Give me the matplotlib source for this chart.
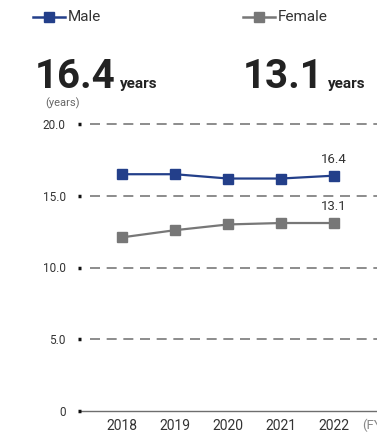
import matplotlib
matplotlib.use("Agg")
import matplotlib.pyplot as plt

plt.rcParams["font.family"] = ["Roboto", "DejaVu Sans"]
plt.rcParams["lines.scale_dashes"] = False

years = [2018, 2019, 2020, 2021, 2022]
male = [16.5, 16.5, 16.2, 16.2, 16.4]
female = [12.1, 12.6, 13.0, 13.1, 13.1]
y_ticks = [0, 5, 10, 15, 20]
y_tick_labels = ["0", "5.0", "10.0", "15.0", "20.0"]
headline = {"Male": "16.4", "Female": "13.1"}

MALE_C = "#233f8a"
FEMALE_C = "#777777"
TEXT_C = "#333333"
GRID_C = "#6e6e6e"

W, H = 377, 432
fig = plt.figure(figsize=(W / 100, H / 100), dpi=100)


def fx(px):
    return px / W


def fy(py):
    return 1 - py / H


# plot area: left edge at 78 px, runs past the right border
left, right, top, bottom = 78, 400, 124, 411
ax = fig.add_axes([fx(left), fy(bottom), fx(right - left), fy(top) - fy(bottom)])
x_per_px = 53.0
ax.set_xlim(2018 - (122 - left) / x_per_px, 2018 + (right - 122) / x_per_px)
ax.set_ylim(0, 20)
for s in ax.spines.values():
    s.set_visible(False)

# dashed gridlines
x0 = (90 - left) / (right - left)
for v in y_ticks[1:]:
    ax.axhline(v, xmin=x0, xmax=1, color=GRID_C, lw=1.1,
               dashes=(7.2, 4.8), clip_on=False, zorder=1)
ax.axhline(0, xmin=(80 - left) / (right - left), xmax=1, color=GRID_C,
           lw=1.0, clip_on=False, zorder=1)

ax.set_yticks(y_ticks)
ax.set_yticklabels(y_tick_labels)
ax.tick_params(axis="y", direction="in", length=2.5, width=2.5, color="#111111",
               pad=9, labelsize=8.5, labelcolor=TEXT_C)
ax.set_xticks(years)
ax.set_xticklabels([str(y) for y in years])
ax.tick_params(axis="x", length=0, pad=6, labelsize=10, labelcolor=TEXT_C)
for t in ax.get_yticklabels():
    t.set_clip_on(False)

ax.plot(years, male, color=MALE_C, lw=1.6, marker="s", ms=7.5,
        clip_on=False, zorder=3)
ax.plot(years, female, color=FEMALE_C, lw=1.6, marker="s", ms=7.5,
        clip_on=False, zorder=3)

ax.annotate(f"{male[-1]:.1f}", (years[-1], male[-1]), xytext=(0, 7),
            textcoords="offset points", ha="center", va="bottom",
            fontsize=9.5, color=TEXT_C)
ax.annotate(f"{female[-1]:.1f}", (years[-1], female[-1]), xytext=(0, 7),
            textcoords="offset points", ha="center", va="bottom",
            fontsize=9.5, color=TEXT_C)

ax.annotate("(FY)", (years[-1], 0), xytext=(28, -14.5),
            textcoords="offset pixels", ha="left", va="center",
            fontsize=9.5, color="#888888", annotation_clip=False)

# legend glyphs and headline figures
def legend_item(x, color, label):
    fig.add_artist(plt.Line2D([fx(x), fx(x + 32)], [fy(17), fy(17)],
                              color=color, lw=1.8, transform=fig.transFigure))
    fig.add_artist(plt.Line2D([fx(x + 16)], [fy(17)], color=color, marker="s",
                              ms=7.5, transform=fig.transFigure))
    fig.text(fx(x + 35), fy(17), label, ha="left", va="center",
             fontsize=11, color=TEXT_C)

legend_item(33, MALE_C, "Male")
legend_item(243, FEMALE_C, "Female")

def headline_item(x, value):
    t = fig.text(fx(x), fy(88), value, ha="left", va="baseline",
                 fontsize=29, fontweight="bold", color="#222222")
    fig.canvas.draw()
    bb = t.get_window_extent()
    fig.text(bb.x1 / W + fx(4), fy(88), "years", ha="left", va="baseline",
             fontsize=11, fontweight="bold", color="#222222")

headline_item(35, headline["Male"])
headline_item(243, headline["Female"])

fig.text(fx(45), fy(103), "(years)", ha="left", va="center",
         fontsize=8, color="#666666")

fig.savefig("out.png", dpi=100)
